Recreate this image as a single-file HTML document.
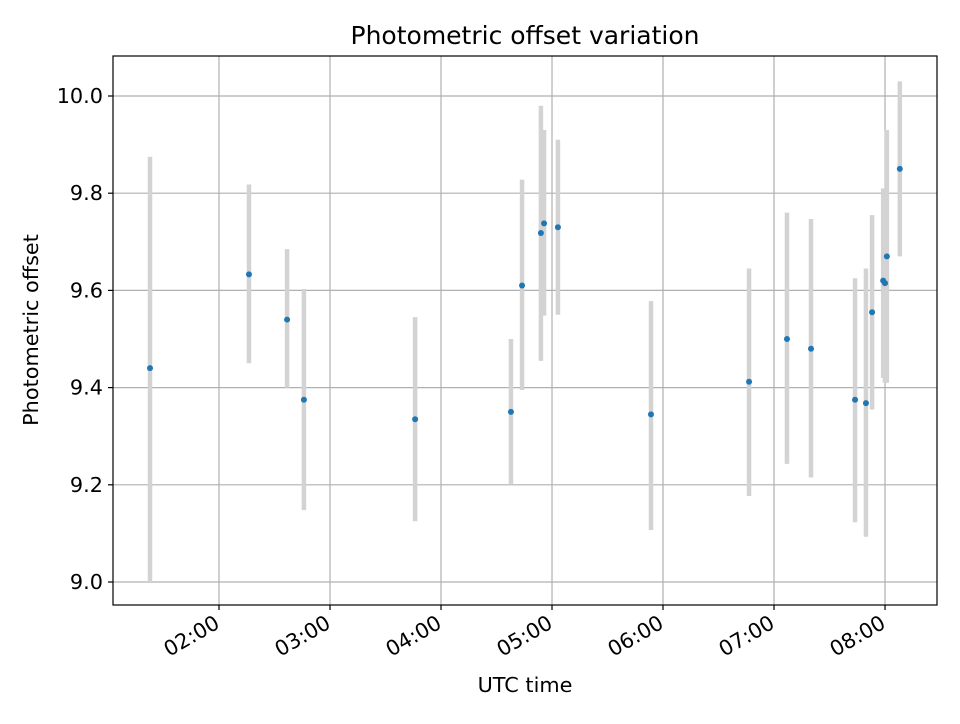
<!DOCTYPE html>
<html><head><meta charset="utf-8"><style>
body{margin:0;background:#fff;font-family:"DejaVu Sans","Liberation Sans",sans-serif}
text{font-family:"DejaVu Sans","Liberation Sans",sans-serif}
</style></head><body>
<svg id="chart" width="960" height="720" xmlns="http://www.w3.org/2000/svg">
<rect width="960" height="720" fill="#fff"/>
<g id="grid"></g>
<g id="bars"></g>
<g id="pts"></g>
<rect x="113" y="56" width="824" height="549" fill="none" stroke="#000" stroke-width="1.2"/>
<g id="ticks"></g>
<text x="525" y="44" text-anchor="middle" style="font-size:25px">Photometric offset variation</text>
<text x="525" y="692" text-anchor="middle" style="font-size:20.8px">UTC time</text>
<text x="38" y="330" text-anchor="middle" style="font-size:20.8px" transform="rotate(-90 38 330)">Photometric offset</text>
</svg>
<script>
// minutes after 02:00 UTC
const times=[-37.3,16.2,36.8,45.9,106,157.8,163.8,174,175.7,183.2,233.5,286.5,307,320,343.8,349.7,353,359,360,361,368];
const values=[9.44,9.633,9.54,9.375,9.335,9.35,9.61,9.718,9.738,9.73,9.345,9.412,9.5,9.48,9.375,9.368,9.555,9.62,9.615,9.67,9.85];
const lows=[9.0,9.45,9.40,9.148,9.125,9.20,9.395,9.455,9.548,9.55,9.107,9.177,9.243,9.215,9.123,9.093,9.355,9.42,9.41,9.41,9.67];
const highs=[9.875,9.818,9.685,9.603,9.545,9.50,9.828,9.98,9.93,9.91,9.578,9.645,9.76,9.747,9.625,9.645,9.755,9.81,9.81,9.93,10.03];
const xTickVals=[0,60,120,180,240,300,360];
const xTickLabels=["02:00","03:00","04:00","05:00","06:00","07:00","08:00"];
const yTickVals=[9.0,9.2,9.4,9.6,9.8,10.0];
const yTickLabels=["9.0","9.2","9.4","9.6","9.8","10.0"];
const L=113,R=937,T=56,B=605,X0=-57.3,X1=388.1,Y0=8.9527,Y1=10.0823;
const xs=v=>L+(v-X0)/(X1-X0)*(R-L);
const ys=v=>B-(v-Y0)/(Y1-Y0)*(B-T);
const NS="http://www.w3.org/2000/svg";
function mk(t,a,p){const e=document.createElementNS(NS,t);for(const k in a)e.setAttribute(k,a[k]);p.appendChild(e);return e;}
const grid=document.getElementById('grid'),ticks=document.getElementById('ticks'),bars=document.getElementById('bars'),pts=document.getElementById('pts');
xTickVals.forEach((v,i)=>{const x=xs(v);
 const g=mk('line',{x1:x,x2:x,y1:T,y2:B,stroke:'#b0b0b0','stroke-width':1.2},grid);
 
 const t=mk('line',{x1:x,x2:x,y1:B,y2:B+5,stroke:'#000','stroke-width':1.2},ticks);
 
 const tx=mk('text',{x:x+2,y:B+22,'text-anchor':'end',style:'font-size:20.8px',transform:`rotate(-30 ${x+2} ${B+22})`},ticks);
 tx.textContent=xTickLabels[i];
 
});
yTickVals.forEach((v,i)=>{const y=ys(v);
 const g=mk('line',{x1:L,x2:R,y1:y,y2:y,stroke:'#b0b0b0','stroke-width':1.2},grid);
 
 const t=mk('line',{x1:L-5,x2:L,y1:y,y2:y,stroke:'#000','stroke-width':1.2},ticks);
 
 const tx=mk('text',{x:L-10,y:y+7,'text-anchor':'end',style:'font-size:20.8px'},ticks);
 tx.textContent=yTickLabels[i];
 
});
times.forEach((t,i)=>{const x=xs(t);
 const b=mk('line',{x1:x,x2:x,y1:ys(lows[i]),y2:ys(highs[i]),stroke:'#d3d3d3','stroke-width':4.5},bars);
 
});
times.forEach((t,i)=>{
 const c=mk('circle',{cx:xs(t),cy:ys(values[i]),r:3,fill:'#1f77b4'},pts);
 
});
</script>
</body></html>
